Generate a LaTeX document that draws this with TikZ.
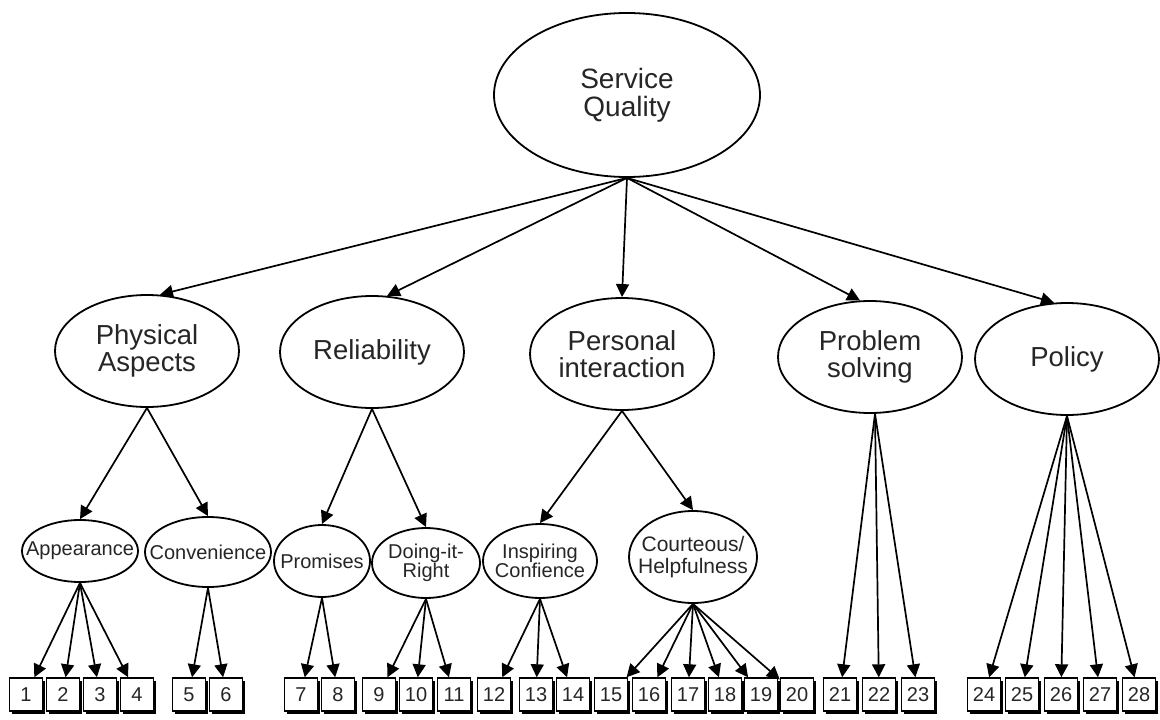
\documentclass[tikz,border=0pt]{standalone}
\usepackage{fontspec}
\setmainfont{Liberation Sans}
\usetikzlibrary{shapes.geometric,arrows.meta,shadows}
\begin{document}
\begin{tikzpicture}[x=1pt,y=-1pt,
  every label/.style={text=black!85, align=center, inner sep=0pt},
  ell/.style={draw, ellipse, line width=1.8pt, inner sep=0pt, fill=white},
  bigtxt/.style={font=\fontsize{28}{28}\selectfont},
  midtxt/.style={font=\fontsize{27.5}{27}\selectfont},
  smltxt/.style={font=\fontsize{20}{18}\selectfont},
  crttxt/.style={font=\fontsize{21}{22}\selectfont},
  numbox/.style={draw, line width=1.4pt, fill=white, minimum width=33pt, minimum height=33pt, inner sep=0pt, text=black!85, font=\fontsize{20}{20}\selectfont, drop shadow={shadow xshift=2.8pt, shadow yshift=-2.8pt, fill=black, opacity=1}},
  arr/.style={-{Triangle[length=13pt,width=13pt]}, line width=1.7pt}
]
\useasboundingbox (0,0) rectangle (1160,720);

% top
\node[ell, minimum width=266pt, minimum height=164pt, label={[bigtxt]center:{Service\\Quality}}] (sq) at (627,95) {};

% second level
\node[ell, minimum width=184pt, minimum height=112pt, label={[midtxt]center:{Physical\\Aspects}}] (pa) at (147,351) {};
\node[ell, minimum width=184pt, minimum height=112pt, label={[midtxt]center:{Reliability}}] (rel) at (372,352) {};
\node[ell, minimum width=184pt, minimum height=112pt, label={[midtxt]center:{Personal\\interaction}}] (pi) at (622,354) {};
\node[ell, minimum width=184pt, minimum height=112pt, label={[midtxt]center:{Problem\\solving}}] (ps) at (870,357) {};
\node[ell, minimum width=184pt, minimum height=112pt, label={[midtxt]center:{Policy}}] (pol) at (1067,359) {};

% third level
\node[ell, minimum width=116pt, minimum height=62pt, label={[smltxt]center:{Appearance}}] (app) at (80,551) {};
\node[ell, minimum width=126pt, minimum height=70pt, label={[smltxt]center:{Convenience}}] (conv) at (208,552) {};
\node[ell, minimum width=96pt, minimum height=72pt, label={[smltxt]center:{Promises}}] (prom) at (322,561) {};
\node[ell, minimum width=108pt, minimum height=70pt, label={[smltxt]center:{Doing-it-\\Right}}] (dir) at (426,563) {};
\node[ell, minimum width=114pt, minimum height=74pt, label={[smltxt]center:{Inspiring\\Confience}}] (insp) at (540,561) {};
\node[ell, minimum width=128pt, minimum height=92pt, label={[crttxt]center:{Courteous/\\Helpfulness}}] (court) at (693,557) {};

% boxes
\foreach \i/\x in {1/26,2/63,3/100,4/137,5/189,6/226,7/301,8/338,9/379,10/416,11/454,12/494,13/536,14/573,15/611,16/649,17/688,18/725,19/761,20/797,21/840,22/879,23/918,24/984,25/1022,26/1061,27/1100,28/1139}
  \node[numbox] (b\i) at (\x,694.5) {\i};

% top-level connectors
\draw[arr] (sq.south) -- (pa.77);
\draw[arr] (sq.south) -- (rel.75);
\draw[arr] (sq.south) -- (pi.north);
\draw[arr] (sq.south) -- (ps.100);
\draw[arr] (sq.south) -- (pol.103);

% second-level connectors
\draw[arr] (pa.south) -- (app.north);
\draw[arr] (pa.south) -- (conv.north);
\draw[arr] (rel.south) -- (prom.north);
\draw[arr] (rel.south) -- (dir.north);
\draw[arr] (pi.south) -- (insp.north);
\draw[arr] (pi.south) -- (court.north);

% to indicators
\foreach \i in {1,...,4} \draw[arr] (app.south) -- (b\i);
\foreach \i in {5,6} \draw[arr] (conv.south) -- (b\i);
\foreach \i in {7,8} \draw[arr] (prom.south) -- (b\i);
\foreach \i in {9,10,11} \draw[arr] (dir.south) -- (b\i);
\foreach \i in {12,13,14} \draw[arr] (insp.south) -- (b\i);
\foreach \i in {15,...,20} \draw[arr] (court.south) -- (b\i);
\foreach \i in {21,22,23} \draw[arr] ([xshift=5pt]ps.south) -- (b\i);
\foreach \i in {24,...,28} \draw[arr] (pol.south) -- (b\i);
\end{tikzpicture}
\end{document}
